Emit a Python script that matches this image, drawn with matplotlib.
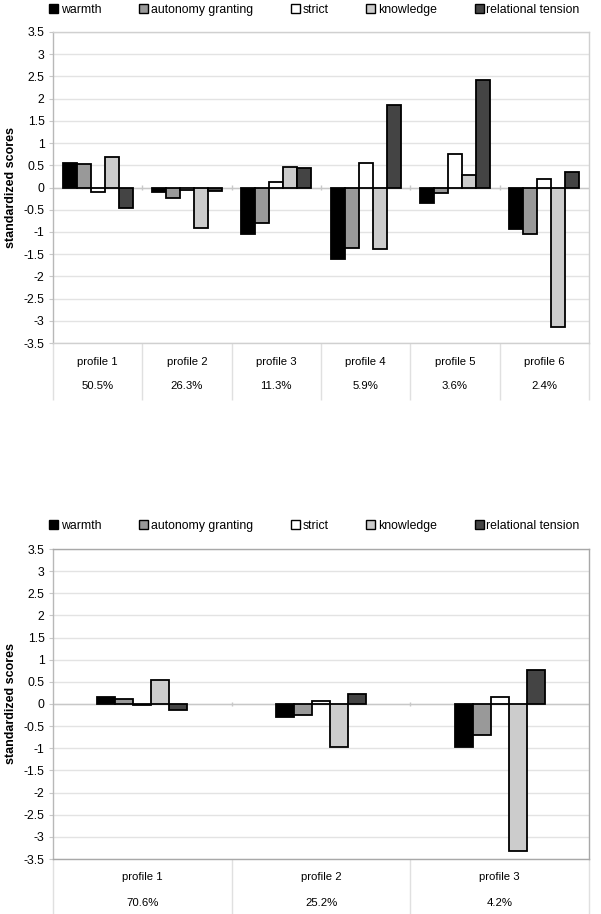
import matplotlib
matplotlib.use("Agg")
import matplotlib.pyplot as plt
from matplotlib.patches import Patch
import numpy as np

plt.rcParams['font.family'] = ['Liberation Sans', 'DejaVu Sans']

series = ["warmth", "autonomy granting", "strict", "knowledge", "relational tension"]
colors = ["#000000", "#999999", "#ffffff", "#cccccc", "#444444"]

# Top chart (6 profiles)
top_profiles = ["profile 1", "profile 2", "profile 3", "profile 4", "profile 5", "profile 6"]
top_pct = ["50.5%", "26.3%", "11.3%", "5.9%", "3.6%", "2.4%"]
top_warmth = [0.56, -0.11, -1.04, -1.62, -0.34, -0.94]
top_autonomy = [0.52, -0.23, -0.79, -1.36, -0.13, -1.05]
top_strict = [-0.11, -0.06, 0.13, 0.55, 0.75, 0.19]
top_knowledge = [0.68, -0.92, 0.47, -1.39, 0.29, -3.15]
top_tension = [-0.47, -0.08, 0.45, 1.85, 2.42, 0.34]

# Bottom chart (3 profiles)
bot_profiles = ["profile 1", "profile 2", "profile 3"]
bot_pct = ["70.6%", "25.2%", "4.2%"]
bot_warmth = [0.16, -0.30, -0.96]
bot_autonomy = [0.12, -0.25, -0.69]
bot_strict = [-0.03, 0.07, 0.16]
bot_knowledge = [0.54, -0.98, -3.32]
bot_tension = [-0.13, 0.23, 0.76]

yticks = [3.5, 3, 2.5, 2, 1.5, 1, 0.5, 0, -0.5, -1, -1.5, -2, -2.5, -3, -3.5]
ytick_labels = ["3.5", "3", "2.5", "2", "1.5", "1", "0.5", "0", "-0.5", "-1", "-1.5", "-2", "-2.5", "-3", "-3.5"]

FS = 8.2
TICK_FS = 8.8
LEG_FS = 8.8
W, H = 601, 914
fig = plt.figure(figsize=(W / 100, H / 100), dpi=100)


def draw_panel(rect, profiles, pct, data, bar_w, border_col, lab_y, pct_y, sep_y):
    ax = fig.add_axes(rect)
    n = len(profiles)
    x = np.arange(n)
    ax.set_xlim(-0.5, n - 0.5)
    ax.set_ylim(-3.5, 3.5)
    for t in yticks:
        ax.axhline(t, color="#e3e3e3", lw=1.0, zorder=0)
    ax.axhline(0, color="#c8c8c8", lw=1.0, zorder=1)
    ax.vlines(np.arange(1, n) - 0.5, -0.05, 0.05, color="#c8c8c8", lw=1.0, zorder=1)
    for j, vals in enumerate(data):
        ax.bar(x + (j - 2) * bar_w, vals, width=bar_w, color=colors[j],
               edgecolor="black", linewidth=1.3, zorder=3)
    ax.set_yticks(yticks)
    ax.set_yticklabels(ytick_labels, fontsize=TICK_FS)
    ax.tick_params(axis="y", length=3, color="#c8c8c8", pad=3)
    ax.set_xticks([])
    for s in ax.spines.values():
        s.set_color(border_col)
        s.set_linewidth(1.0)
    ax.spines["left"].set_color("#b8b8b8")
    ax.set_ylabel("standardized scores", fontsize=9, fontweight="bold", labelpad=5)
    trans = ax.get_xaxis_transform()
    for i in range(n):
        ax.text(i, lab_y, profiles[i], transform=trans, ha="center", va="center", fontsize=FS)
        ax.text(i, pct_y, pct[i], transform=trans, ha="center", va="center", fontsize=FS)
    ax.vlines(np.arange(0, n + 1) - 0.5, sep_y, 0, transform=trans, color="#e0e0e0",
              lw=1.0, clip_on=False)
    return ax


def legend_for(y):
    handles = [Patch(facecolor=c, edgecolor="black", linewidth=1.0) for c in colors]
    fig.legend(handles, series, loc="center left", bbox_to_anchor=(49 / W, 1 - y / H),
               ncol=5, frameon=False, fontsize=LEG_FS, handlelength=0.75, handleheight=0.75,
               handletextpad=0.2, columnspacing=3.1, borderaxespad=0, borderpad=0)


top_ax = draw_panel([53 / W, 1 - 343 / H, 536 / W, 311 / H], top_profiles, top_pct,
                    [top_warmth, top_autonomy, top_strict, top_knowledge, top_tension],
                    0.157, "#d0d0d0", -0.061, -0.138, -0.183)
bot_ax = draw_panel([53 / W, 1 - 859 / H, 536 / W, 310 / H], bot_profiles, bot_pct,
                    [bot_warmth, bot_autonomy, bot_strict, bot_knowledge, bot_tension],
                    0.101, "#a8a8a8", -0.058, -0.142, -0.18)
legend_for(10)
legend_for(526)

fig.savefig("out.png", dpi=100)
